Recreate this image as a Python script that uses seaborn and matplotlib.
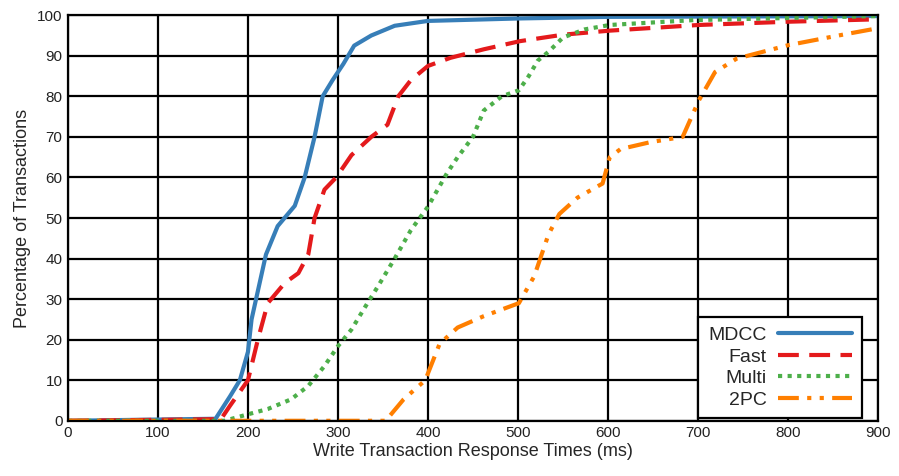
import numpy as np
import pandas as pd
import matplotlib
matplotlib.use('Agg')
import matplotlib.pyplot as plt
import seaborn as sns

# CDF points (ms, %)
mdcc_x = [0, 164, 180, 191, 200, 204, 211, 220, 233, 252, 263, 274, 283, 294, 306, 318, 337, 363, 400, 500, 600, 900]
mdcc_y = [0, 0.5, 6, 10, 17, 25, 32, 41, 48, 53, 60, 70, 80, 84, 88, 92.5, 95, 97.4, 98.6, 99.2, 99.6, 99.8]

fast_x = [0, 170, 180, 200, 211, 222, 241, 256, 267, 274, 285, 298, 315, 337, 355, 367, 381, 400, 425, 462, 502, 550, 602, 701, 800, 900]
fast_y = [0, 0.4, 3.7, 10, 20, 29, 34, 36.4, 41, 50, 57, 60, 65.5, 70, 73, 80, 84, 87.5, 89.5, 91.6, 93.6, 95.2, 96.2, 97.6, 98.4, 99]

multi_x = [0, 174, 200, 222, 248, 267, 285, 300, 315, 330, 344, 363, 381, 400, 421, 433, 450, 462, 482, 501, 512, 522, 534, 550, 574, 602, 695, 900]
multi_y = [0, 0, 1.6, 2.9, 5.3, 8.6, 13.5, 18.4, 22.5, 28, 33, 40, 47, 52.8, 61, 65, 70, 76.5, 80, 81.5, 85, 88.8, 91, 94.5, 96.5, 97.6, 98.8, 99.8]

tpc_x = [0, 353, 373, 397, 413, 433, 462, 501, 518, 534, 546, 566, 594, 602, 614, 647, 683, 701, 719, 743, 800, 856, 900]
tpc_y = [0, 0, 5.3, 10, 19, 23, 25.8, 29, 35.6, 46, 51, 55, 58.5, 65, 67, 68.7, 70, 79, 86, 89.3, 92.6, 95, 96.8]

series = ['MDCC', 'Fast', 'Multi', '2PC']
colors = ['#377eb8', '#e41a1c', '#4daf4a', '#ff7f00']
dashes = [(None, None), (5, 2.5), (1, 1.3), (5, 2, 1, 2, 1, 2)]

sns.set_style('white')
plt.rcParams['font.family'] = ['Liberation Sans', 'DejaVu Sans']

fig, ax = plt.subplots(figsize=(8.99, 4.76), dpi=100)
fig.subplots_adjust(left=0.0756, right=0.9766, top=0.968, bottom=0.116)

data = [(mdcc_x, mdcc_y), (fast_x, fast_y), (multi_x, multi_y), (tpc_x, tpc_y)]
for (xs, ys), name, c, d in zip(data, series, colors, dashes):
    sns.lineplot(x=xs, y=ys, ax=ax, color=c, linewidth=3, label=name)
    if d[0] is not None:
        ax.lines[-1].set_dashes(d)

ax.set_xlim(0, 900)
ax.set_ylim(0, 100)
ax.set_xticks(np.arange(0, 901, 100))
ax.set_yticks(np.arange(0, 101, 10))
ax.grid(True, color='black', linewidth=1.6)
ax.set_axisbelow(True)
for sp in ax.spines.values():
    sp.set_color('black')
    sp.set_linewidth(1.6)
ax.tick_params(length=0, labelsize=11, pad=4, colors='#222222')
ax.set_xlabel('Write Transaction Response Times (ms)', fontsize=13, labelpad=2)
ax.set_ylabel('Percentage of Transactions', fontsize=13, labelpad=4)

leg = ax.legend(loc='lower right', markerfirst=False, fontsize=14, fancybox=False,
                framealpha=1, edgecolor='black', handlelength=3.8, borderpad=0.5,
                labelspacing=0.2, handletextpad=0.6, borderaxespad=0,
                bbox_to_anchor=(0.98, 0.006))
leg.get_frame().set_linewidth(1.6)
for t in leg.get_texts():
    t.set_ha('right')

fig.savefig('out.png', dpi=100)
